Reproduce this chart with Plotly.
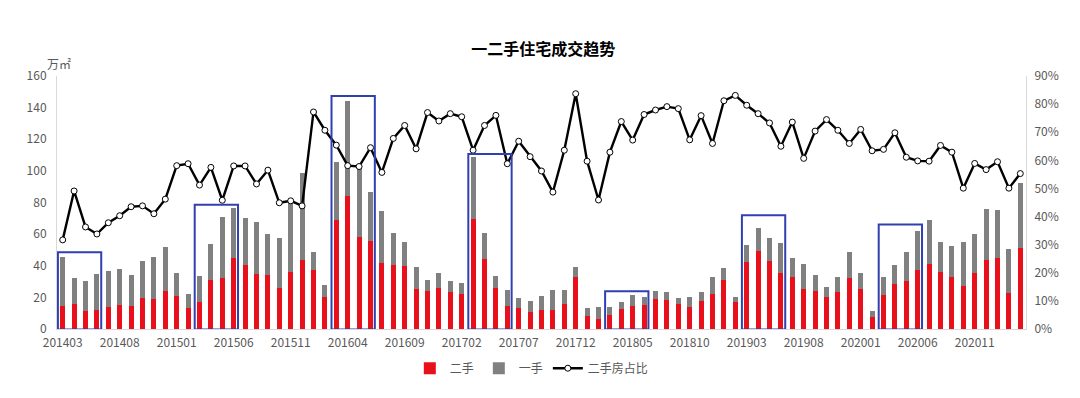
import plotly.graph_objects as go
import pandas as pd

# Categories: monthly, 201403 .. 202103
months = [p.strftime("%Y%m") for p in pd.period_range("2014-03", "2021-03", freq="M")]

# 二手 (second-hand) volume, 万㎡
second_hand = [14.3, 15.8, 11.1, 11.8, 14.1, 15.3, 14.7, 19.3, 18.9, 24.0,
               20.6, 13.2, 17.0, 30.7, 32.2, 44.6, 40.6, 35.1, 34.0, 26.1,
               36.2, 43.5, 37.4, 20.0, 69.0, 84.1, 58.5, 55.9, 41.8, 40.6,
               39.7, 25.2, 23.8, 26.1, 23.1, 21.9, 69.4, 44.2, 25.7, 14.7,
               13.2, 10.7, 11.8, 11.8, 15.8, 33.0, 8.4, 6.3, 8.6, 12.8,
               14.7, 15.1, 18.9, 18.5, 15.8, 13.9, 17.7, 22.1, 31.1, 16.8,
               42.3, 49.6, 42.9, 35.3, 33.0, 25.2, 23.8, 20.0, 23.3, 32.2,
               25.2, 7.4, 21.2, 28.2, 30.1, 37.0, 41.2, 36.2, 32.8, 27.3,
               35.3, 43.5, 44.6, 22.7, 51.1]

# 一手 (first-hand) volume, 万㎡
first_hand = [31.5, 16.4, 19.4, 23.1, 22.7, 22.5, 19.2, 24.0, 26.5, 27.7,
              14.7, 8.9, 16.6, 23.1, 38.7, 32.1, 29.4, 32.4, 26.0, 31.4,
              43.3, 55.3, 11.2, 7.8, 36.8, 60.3, 44.5, 30.9, 33.1, 20.0,
              15.4, 13.9, 7.3, 9.6, 7.2, 7.1, 39.5, 16.4, 7.7, 10.1,
              6.6, 6.8, 9.2, 13.0, 8.6, 6.1, 4.8, 7.6, 5.3, 4.4,
              6.7, 4.9, 5.3, 4.6, 3.8, 6.1, 5.4, 10.7, 7.4, 3.4,
              10.9, 14.5, 14.5, 18.9, 11.9, 16.0, 10.3, 6.5, 9.9, 16.4,
              10.1, 4.0, 11.8, 12.2, 18.5, 25.0, 27.8, 19.1, 19.8, 27.6,
              24.6, 32.2, 30.7, 28.2, 41.4]

# 二手房占比 (share of second-hand), %
share_pct = [31.7, 49.1, 36.3, 33.8, 37.8, 40.3, 43.5, 43.8, 41.0, 46.2,
             58.1, 58.8, 51.2, 57.5, 45.8, 58.0, 58.0, 51.6, 56.5, 44.9,
             45.6, 43.8, 77.2, 70.7, 65.4, 58.1, 57.8, 64.5, 55.7, 67.8,
             72.4, 64.1, 77.0, 74.0, 76.6, 75.5, 63.6, 72.4, 76.0, 58.8,
             66.8, 61.3, 56.2, 48.7, 63.6, 83.7, 59.7, 45.9, 62.9, 73.8,
             67.2, 76.3, 77.9, 79.1, 78.4, 67.3, 75.9, 66.0, 81.2, 83.1,
             79.6, 76.6, 73.3, 65.0, 73.6, 60.7, 70.4, 74.5, 70.7, 66.0,
             71.0, 63.4, 63.9, 69.8, 61.1, 59.8, 59.7, 65.3, 62.9, 50.1,
             58.9, 56.7, 59.5, 50.1, 55.3]

# Highlight boxes: start category of each 4-month group and box top (万㎡)
box_starts = ["201403", "201503", "201603", "201703", "201803", "201903", "202003"]
box_tops = [48.6, 78.5, 147.4, 110.7, 23.8, 72.0, 66.1]

tick_labels = months[::5]

FONT = "Noto Sans CJK SC, Open Sans, sans-serif"
GRAY_TXT = "#595959"

fig = go.Figure()
fig.add_trace(go.Bar(x=months, y=second_hand, name="二手",
                     marker=dict(color="#E8101A", line=dict(width=0))))
fig.add_trace(go.Bar(x=months, y=first_hand, name="一手",
                     marker=dict(color="#808080", line=dict(width=0))))
fig.add_trace(go.Scatter(x=months, y=[v / 100 for v in share_pct], name="二手房占比",
                         yaxis="y2", mode="lines+markers",
                         line=dict(color="#000000", width=2.4),
                         marker=dict(symbol="circle", size=6, color="#FFFFFF",
                                     line=dict(color="#000000", width=1))))

shapes = []
for s, top in zip(box_starts, box_tops):
    i = months.index(s)
    shapes.append(dict(type="rect", xref="x", yref="y",
                       x0=i - 0.42, x1=i + 3.38, y0=-0.3, y1=top,
                       line=dict(color="#3040B0", width=2), fillcolor="rgba(0,0,0,0)",
                       layer="above"))

fig.update_layout(
    width=1080, height=398,
    margin=dict(l=57, r=54, t=76, b=69),
    paper_bgcolor="#FFFFFF", plot_bgcolor="#FFFFFF",
    barmode="stack", bargap=0.55,
    font=dict(family=FONT, size=12, color=GRAY_TXT),
    title=dict(text="<b>一二手住宅成交趋势</b>", x=0.503, xanchor="center",
               y=0.875, yanchor="middle",
               font=dict(family=FONT, size=16, color="#000000")),
    xaxis=dict(type="category", categoryorder="array", categoryarray=months,
               range=[-0.5, len(months) - 0.5],
               tickmode="array", tickvals=tick_labels, ticktext=tick_labels,
               tickangle=0, showgrid=False, showline=True, linecolor="#D9D9D9",
               linewidth=1, ticks="", ticklabelstandoff=3,
               tickfont=dict(size=12, color=GRAY_TXT)),
    yaxis=dict(range=[0, 160], dtick=20, showgrid=False, zeroline=False,
               showline=True, linecolor="#D9D9D9", linewidth=1, ticks="",
               ticklabelstandoff=7,
               tickfont=dict(size=12, color=GRAY_TXT)),
    yaxis2=dict(range=[0, 0.9], dtick=0.1, tickformat=".0%", overlaying="y",
                side="right", showgrid=False, zeroline=False, showline=True,
                linecolor="#D9D9D9", linewidth=1, ticks="", ticklabelstandoff=5,
                tickfont=dict(size=12, color=GRAY_TXT)),
    legend=dict(orientation="h", x=0.49, xanchor="center", y=-0.155, yanchor="middle",
                font=dict(size=12, color=GRAY_TXT), traceorder="normal",
                itemwidth=30, bgcolor="rgba(0,0,0,0)"),
    shapes=shapes,
    annotations=[dict(text="万㎡", xref="paper", yref="paper", x=-0.012, y=1.05,
                      xanchor="left", yanchor="middle", showarrow=False,
                      font=dict(size=12, color=GRAY_TXT))],
)

fig.write_html("out.html", config={"displayModeBar": False},
               post_script="document.body.style.margin='0px';document.body.style.padding='0px';")
